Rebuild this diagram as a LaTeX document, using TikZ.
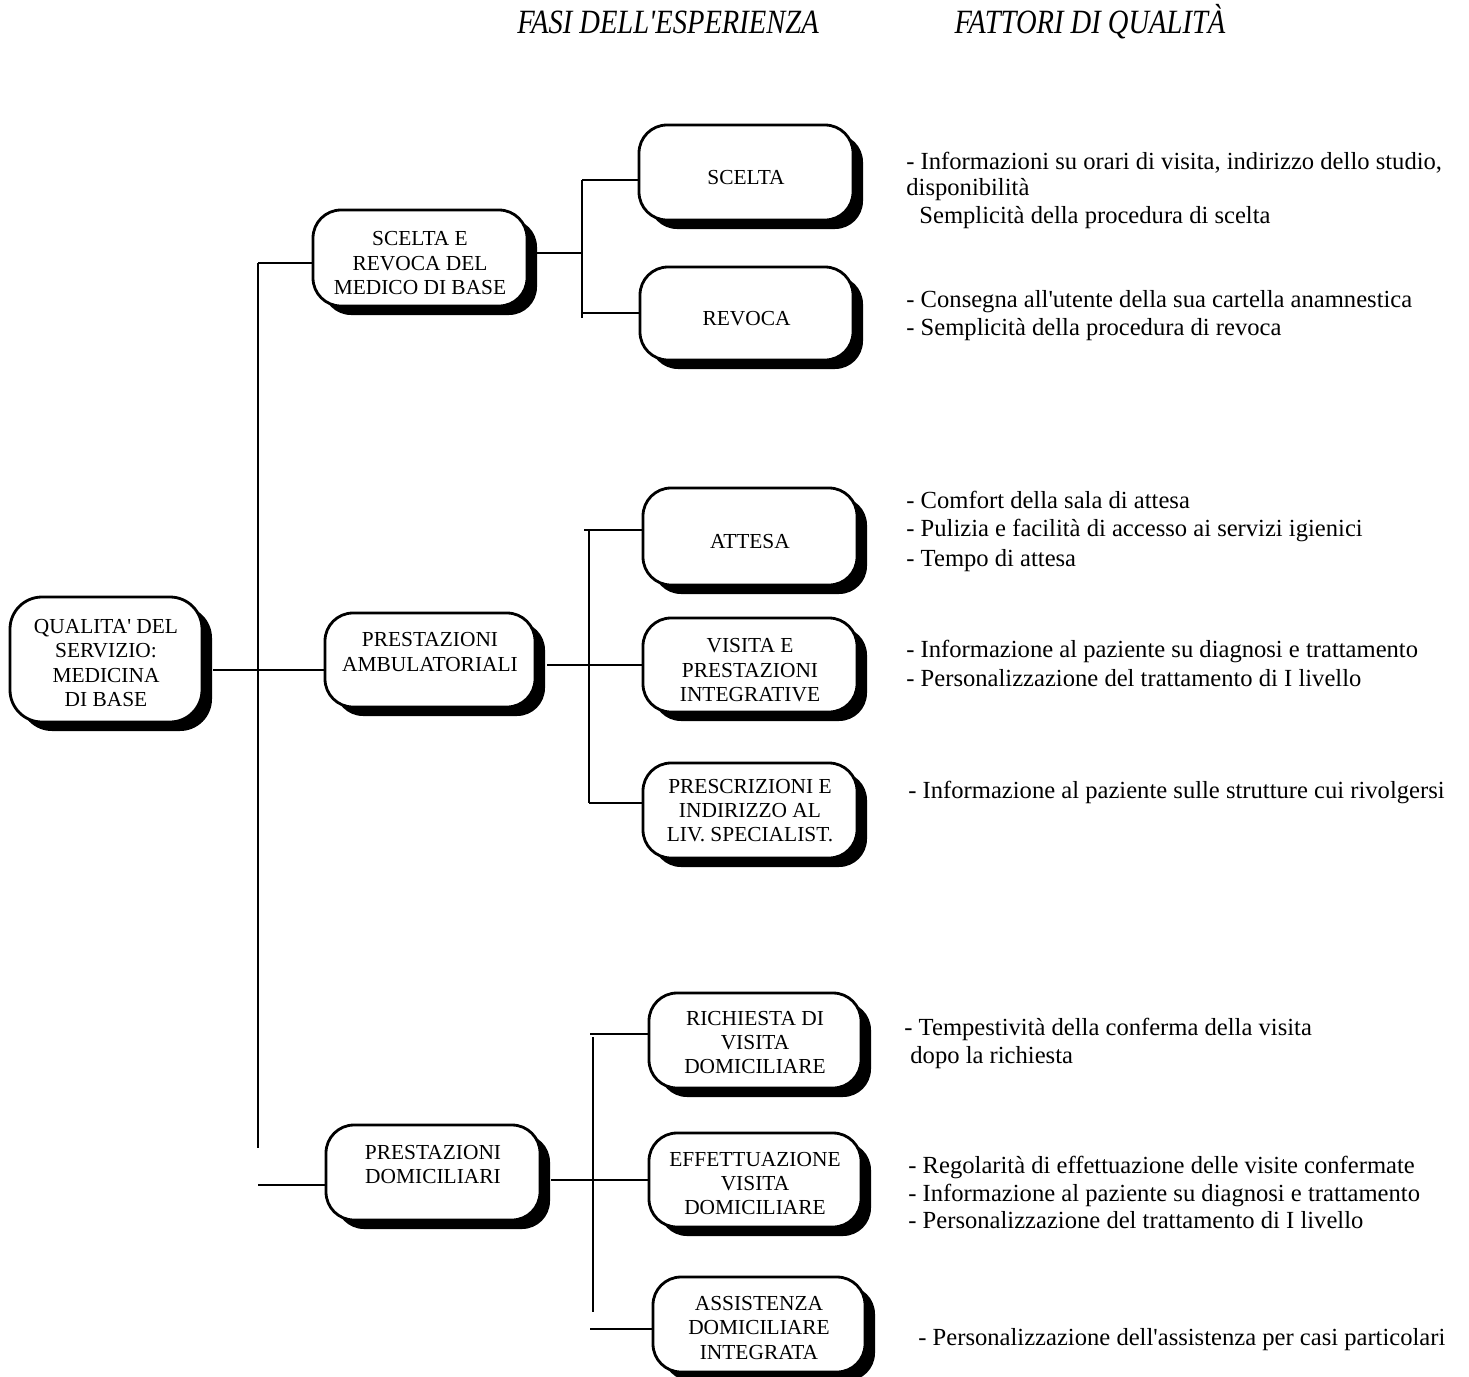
\documentclass[tikz,border=0pt]{standalone}
\usepackage{graphicx}
\usepackage{fontspec}
\setmainfont{Liberation Serif}
\usetikzlibrary{shadows}
\newcommand\bt[2][3.56pt]{\raisebox{-#1}[\height][\depth]{\begin{tabular}{@{}c@{}}#2\end{tabular}}}
\begin{document}
\begin{tikzpicture}[x=0.5pt,y=-0.5pt,
  box/.style={draw=black, line width=1.4pt, rounded corners=14pt, fill=white,
    align=center, inner sep=0pt, font=\fontsize{10.7}{12.2}\selectfont,
    drop shadow={shadow xshift=5pt, shadow yshift=-4.5pt, fill=black, opacity=1}},
  conn/.style={line width=1.35pt},
  note/.style={anchor=base west, inner sep=0pt, font=\fontsize{12.3}{14}\selectfont},
  head/.style={anchor=base, inner sep=0pt, font=\fontsize{17}{19}\selectfont\itshape}]
\useasboundingbox (0,0) rectangle (1469,1377);

% headers
\node[head] (h1) at (668,33) {\scalebox{0.84}[1]{FASI DELL\textquotesingle ESPERIENZA}};
\node[head] (h2) at (1090,33) {\scalebox{0.84}[1]{FATTORI DI QUALITÀ}};

% boxes
\node[box, rounded corners=16pt, minimum width=96pt, minimum height=62.5pt] (root) at (106,659.5)
  {\bt[2.8pt]{QUALITA\textquotesingle{} DEL\\SERVIZIO:\\MEDICINA\\DI BASE}};
\node[box, minimum width=107pt, minimum height=48pt] (sr) at (420,258) {\bt{SCELTA E\\REVOCA DEL\\MEDICO DI BASE}};
\node[box, minimum width=105pt, minimum height=47pt] (pa) at (430,660) {PRESTAZIONI\\AMBULATORIALI\\[-4pt]\mbox{}};
\node[box, minimum width=107pt, minimum height=47.5pt] (pd) at (433,1172.5) {PRESTAZIONI\\DOMICILIARI\\[-4pt]\mbox{}};

\node[box, minimum width=107pt, minimum height=47.5pt] (sc) at (746,172.5) {\bt{SCELTA}};
\node[box, minimum width=106.5pt, minimum height=46.5pt] (rv) at (746.5,313.5) {\bt{REVOCA}};
\node[box, minimum width=107pt, minimum height=48.5pt] (at) at (750,536.5) {\bt{ATTESA}};
\node[box, minimum width=107pt, minimum height=47pt] (vi) at (750,665) {\bt{VISITA E\\PRESTAZIONI\\INTEGRATIVE}};
\node[box, minimum width=107pt, minimum height=47.5pt] (pr) at (750,810.5) {\bt[1.06pt]{PRESCRIZIONI E\\INDIRIZZO AL\\LIV. SPECIALIST.}};
\node[box, minimum width=106pt, minimum height=47.5pt] (ri) at (755,1040.5) {\bt[2.1pt]{RICHIESTA DI\\VISITA\\DOMICILIARE}};
\node[box, minimum width=106pt, minimum height=47pt] (ef) at (755,1180) {\bt[2.8pt]{EFFETTUAZIONE\\VISITA\\DOMICILIARE}};
\node[box, minimum width=106pt, minimum height=47.5pt] (as) at (759,1324.5) {\bt[2.8pt]{ASSISTENZA\\DOMICILIARE\\INTEGRATA}};

% main trunk
\coordinate (t1) at (258,263);
\coordinate (t2) at (258,1148);
\coordinate (t3) at (258,1185);
\coordinate (r0) at (213,670);
\draw[conn] (t1) -- (t2);
\draw[conn] (t1) -- (t1 -| sr.west);
\draw[conn] (t3) -- (t3 -| pd.west);
\draw[conn] (r0) -- (r0 -| pa.west);

% scelta e revoca branch
\coordinate (a1) at (582,180);
\coordinate (a2) at (582,318);
\coordinate (a3) at (582,313);
\coordinate (a4) at (537,253);
\draw[conn] (a1) -- (a2);
\draw[conn] (a1) -- (a1 -| sc.west);
\draw[conn] (a3) -- (a3 -| rv.west);
\draw[conn] (a4) -- (a4 -| a1);

% ambulatoriali branch
\coordinate (b1) at (589,530);
\coordinate (b2) at (589,803);
\coordinate (b0) at (584,530);
\coordinate (b4) at (547,665);
\draw[conn] (b1) -- (b2);
\draw[conn] (b0) -- (b0 -| at.west);
\draw[conn] (b2) -- (b2 -| pr.west);
\draw[conn] (b4) -- (b4 -| vi.west);

% domiciliari branch
\coordinate (d1) at (593,1037);
\coordinate (d2) at (593,1312);
\coordinate (d3) at (590,1034);
\coordinate (d4) at (590,1329);
\coordinate (d5) at (551,1180);
\draw[conn] (d1) -- (d2);
\draw[conn] (d3) -- (d3 -| ri.west);
\draw[conn] (d4) -- (d4 -| as.west);
\draw[conn] (d5) -- (d5 -| ef.west);

% notes
\node[note] (n1) at (906,169) {- Informazioni su orari di visita, indirizzo dello studio,};
\node[note] (n2) at (906,195) {disponibilità};
\node[note] (n3) at (919,223) {Semplicità della procedura di scelta};
\node[note] (n4) at (906,307) {- Consegna all\textquotesingle utente della sua cartella anamnestica};
\node[note] (n5) at (906,335) {- Semplicità della procedura di revoca};
\node[note] (n6) at (906,508) {- Comfort della sala di attesa};
\node[note] (n7) at (906,536) {- Pulizia e facilità di accesso ai servizi igienici};
\node[note] (n8) at (906,566) {- Tempo di attesa};
\node[note] (n9) at (906,657) {- Informazione al paziente su diagnosi e trattamento};
\node[note] (n10) at (906,686) {- Personalizzazione del trattamento di I livello};
\node[note] (n11) at (908,798) {- Informazione al paziente sulle strutture cui rivolgersi};
\node[note] (n12) at (904,1035) {- Tempestività della conferma della visita};
\node[note] (n13) at (910,1063) {dopo la richiesta};
\node[note] (n14) at (908,1173) {- Regolarità di effettuazione delle visite confermate};
\node[note] (n15) at (908,1201) {- Informazione al paziente su diagnosi e trattamento};
\node[note] (n16) at (908,1228) {- Personalizzazione del trattamento di I livello};
\node[note] (n17) at (918,1345) {- Personalizzazione dell\textquotesingle assistenza per casi particolari};
\end{tikzpicture}
\end{document}
